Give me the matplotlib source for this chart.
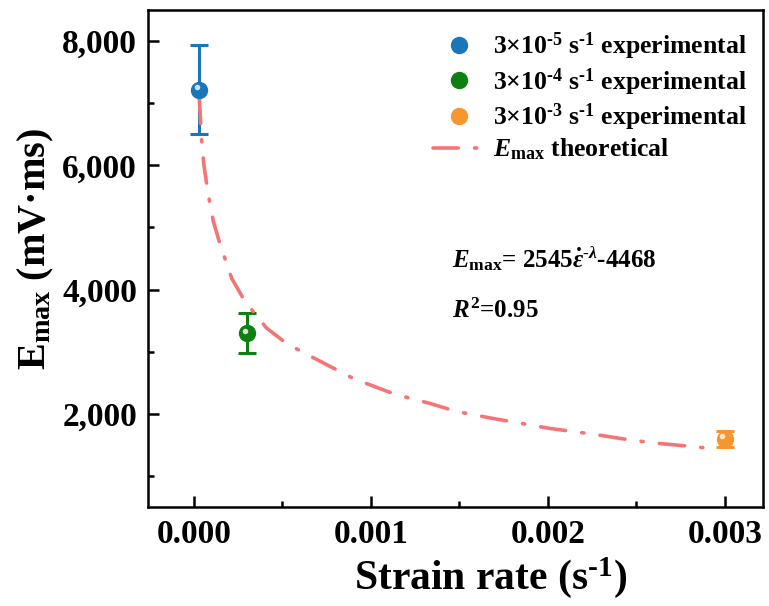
import matplotlib
matplotlib.use("Agg")
import matplotlib.pyplot as plt
from matplotlib.transforms import offset_copy
from matplotlib.ticker import FuncFormatter, MultipleLocator

plt.rcParams['font.family'] = ['Liberation Serif', 'DejaVu Serif']
plt.rcParams['font.weight'] = 'bold'
plt.rcParams['axes.labelweight'] = 'bold'
plt.rcParams['mathtext.fontset'] = 'custom'
plt.rcParams['mathtext.rm'] = 'Liberation Serif:bold'
plt.rcParams['mathtext.bf'] = 'Liberation Serif:bold'
plt.rcParams['mathtext.it'] = 'Liberation Serif:italic:bold'

# experimental points (strain rate, E_max, error)
rates = [3e-5, 3e-4, 3e-3]
e_max = [7215, 3300, 1600]
e_err = [715, 320, 130]
colors = ['#1b75bb', '#0e8012', '#f7952f']
labels = [r'3×10$^{\text{-5}}$ s$^{\text{-1}}$ experimental',
          r'3×10$^{\text{-4}}$ s$^{\text{-1}}$ experimental',
          r'3×10$^{\text{-3}}$ s$^{\text{-1}}$ experimental']

# theoretical curve
theory_x = [3.0e-5, 4.3e-5, 5.6e-5, 7.2e-5, 9.0e-5, 1.09e-4, 1.47e-4, 2.13e-4, 2.88e-4,
            4.1e-4, 5.24e-4, 7.5e-4, 9.0e-4, 1.0e-3, 1.14e-3, 1.33e-3, 1.48e-3,
            1.67e-3, 1.82e-3, 2.01e-3, 2.26e-3, 2.44e-3, 2.6e-3, 2.79e-3, 2.95e-3]
theory_y = [7080, 6390, 6000, 5690, 5380, 5100, 4730, 4180, 3810,
            3380, 3130, 2790, 2570, 2460, 2310, 2170, 2040,
            1935, 1860, 1765, 1670, 1590, 1530, 1480, 1435]
line_color = '#f47575'

fig = plt.figure(figsize=(7.69, 6.06), dpi=100)
ax = fig.add_axes([0.1925, 0.1634, 0.7995, 0.8201])

for x, y, err, c in zip(rates, e_max, e_err, colors):
    ax.errorbar(x, y, yerr=err, fmt='none', ecolor=c, elinewidth=2.2,
                capsize=6.5, capthick=2.2, zorder=2)

theory, = ax.plot(theory_x, theory_y, color=line_color, lw=2.6,
                  dashes=(7, 4.5, 0.6, 4.5), dash_capstyle='round', zorder=3)

# sphere-like markers: solid disc plus a small highlight up and to the left
shine = offset_copy(ax.transData, fig=fig, x=-2.5, y=2.5, units='dots')
handles = []
for x, y, c in zip(rates, e_max, colors):
    base, = ax.plot(x, y, 'o', ms=11.5, mfc=c, mec=c, zorder=4)
    ax.plot(x, y, 'o', ms=4, mfc='white', mec='none', alpha=0.8,
            transform=shine, zorder=5)
    handles.append(base)

ax.legend(handles + [theory],
          labels + [r'$\mathit{E}_{\rm max}$ theoretical'],
          loc='upper right', bbox_to_anchor=(0.99, 0.979), frameon=False,
          fontsize=18.5, handlelength=2.0, handletextpad=0.3, labelspacing=0.15,
          borderaxespad=0)

ax.text(0.494, 0.5, r'$\mathit{E}_{\rm max}$= 2545$\dot{\mathit{\varepsilon}}^{\text{-}\lambda}$-4468',
        transform=ax.transAxes, fontsize=18, va='center', ha='left')
ax.text(0.494, 0.395, r'$\mathit{R}^{2}$=0.95',
        transform=ax.transAxes, fontsize=18, va='center', ha='left')

ax.set_xlim(-0.00026, 0.003215)
ax.set_ylim(500, 8500)
ax.xaxis.set_major_locator(MultipleLocator(0.001))
ax.xaxis.set_minor_locator(MultipleLocator(0.0005))
ax.yaxis.set_major_locator(MultipleLocator(2000))
ax.yaxis.set_minor_locator(MultipleLocator(1000))
ax.xaxis.set_major_formatter(FuncFormatter(lambda v, p: f'{v:.3f}'))
ax.yaxis.set_major_formatter(FuncFormatter(lambda v, p: f'{v:,.0f}'))
ax.tick_params(which='both', direction='in', width=1.8, labelsize=24)
ax.tick_params(which='major', length=8)
ax.tick_params(which='minor', length=4)
ax.tick_params(axis='x', pad=9)
ax.tick_params(axis='y', pad=8)
for s in ax.spines.values():
    s.set_linewidth(1.8)

ax.set_xlabel(r'Strain rate (s$^{\text{-1}}$)', fontsize=30, labelpad=3, x=0.557)
ax.set_ylabel(r'E$_{\rm max}$ (mV·ms)', fontsize=29, labelpad=4, y=0.52)

fig.savefig('out.png', dpi=100)
